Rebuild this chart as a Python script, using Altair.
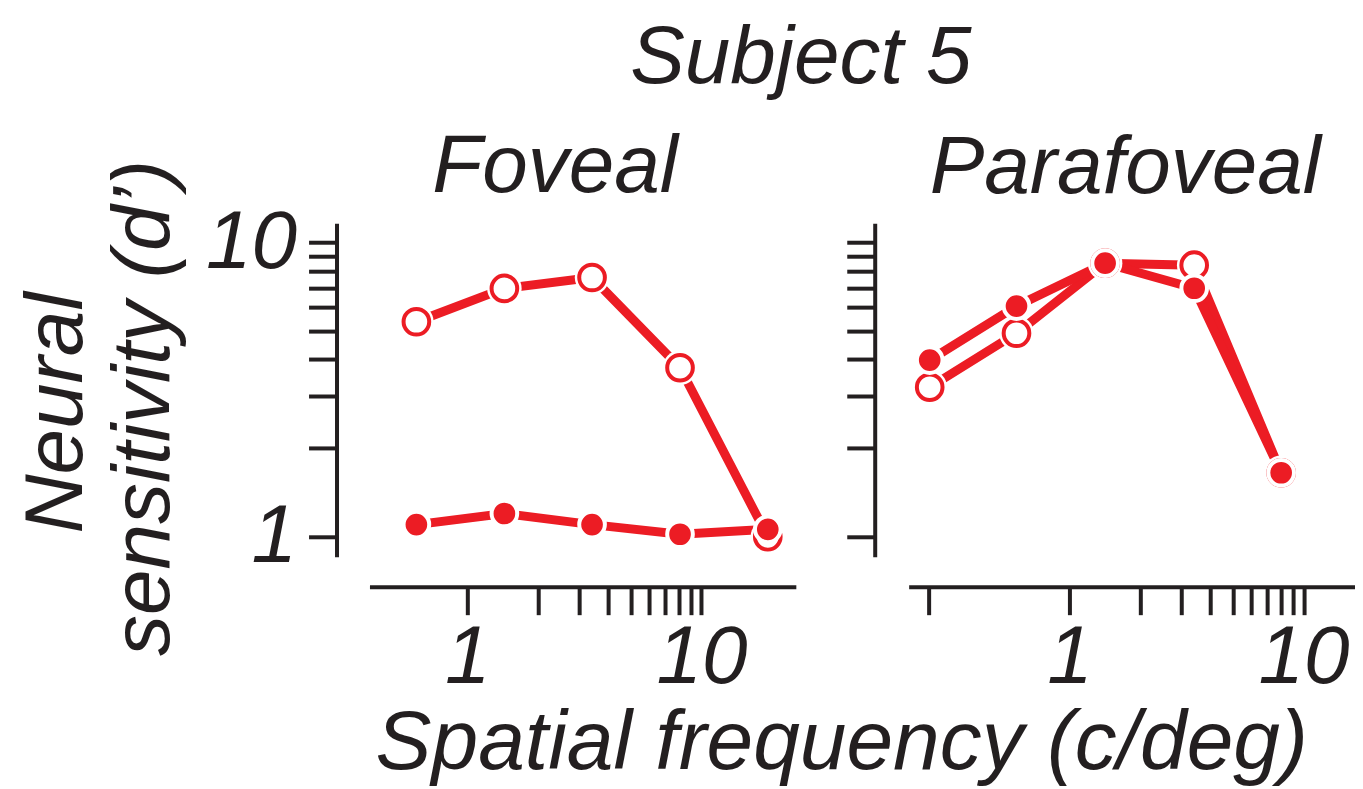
import altair as alt
import pandas as pd

RED = "#ec1c24"
INK = "#231f20"
FONT = "Liberation Sans"

# Foveal panel (Subject 5)
fov_freq = [0.606, 1.44, 3.41, 8.1, 19.2]
fov_open = [5.37, 6.97, 7.59, 3.75, 1.0]
fov_filled = [1.10, 1.20, 1.10, 1.02, 1.06]

# Parafoveal panel (Subject 5)
para_freq = [0.253, 0.594, 1.42, 3.41, 8.02]
para_open = [3.22, 4.91, 8.49, 8.36, 1.65]
para_filled = [3.98, 6.07, 8.49, 6.98, 1.65]

y_ticks = [1, 2, 3, 4, 5, 6, 7, 8, 9, 10]
fov_x_ticks = [1, 2, 3, 4, 5, 6, 7, 8, 9, 10]
para_x_ticks = [0.25, 1, 2, 3, 4, 5, 6, 7, 8, 9, 10]

fov_x_domain = [0.382, 25.3]
para_x_domain = [0.2057, 16.58]
y_domain = [0.8555, 11.6]

LABEL_EXPR = "datum.value == 1 ? '1' : (datum.value == 10 ? '10' : '')"


def make_df(freq, open_vals, filled_vals):
    rows = []
    for f, v in zip(freq, open_vals):
        rows.append({"freq": f, "d": v, "kind": "open"})
    for f, v in zip(freq, filled_vals):
        rows.append({"freq": f, "d": v, "kind": "filled"})
    return pd.DataFrame(rows)


def axis(values, offset, labels=True, pad=3):
    kw = dict(
        values=values,
        title=None,
        grid=False,
        offset=offset,
        tickSize=28,
        tickWidth=4,
        tickColor=INK,
        domainWidth=4,
        domainColor=INK,
        labels=labels,
    )
    if labels:
        kw.update(
            labelExpr=LABEL_EXPR,
            labelFont=FONT,
            labelFontSize=82,
            labelFontStyle="italic",
            labelColor=INK,
            labelOverlap=False,
            labelFlush=False,
            labelBound=False,
            labelPadding=pad,
        )
    return alt.Axis(**kw)


def panel(df, xdomain, xticks, yoffset, ylabels):
    x = alt.X(
        "freq:Q",
        scale=alt.Scale(type="log", domain=xdomain, nice=False),
        axis=axis(xticks, 30, pad=3),
    )
    y = alt.Y(
        "d:Q",
        scale=alt.Scale(type="log", domain=y_domain, nice=False),
        axis=axis(y_ticks, yoffset, labels=ylabels, pad=12),
    )
    base = alt.Chart(df)
    lines = base.mark_line(strokeWidth=9, color=RED).encode(
        x=x, y=y, detail="kind:N"
    )
    open_df = base.transform_filter(alt.datum.kind == "open")
    filled_df = base.transform_filter(alt.datum.kind == "filled")
    halo = open_df.mark_point(
        shape="circle", filled=True, fill="white", opacity=1, size=1195, strokeWidth=0
    ).encode(x=x, y=y)
    ring = open_df.mark_point(
        shape="circle", filled=True, fill="white", stroke=RED, strokeWidth=4,
        opacity=1, size=660
    ).encode(x=x, y=y)
    dots = filled_df.mark_point(
        shape="circle", filled=True, fill=RED, stroke="white", strokeWidth=4,
        opacity=1, size=660
    ).encode(x=x, y=y)
    return [lines, halo, ring, dots]


def label(text, px, py, angle=0, size=82):
    return alt.Chart(pd.DataFrame({"t": [text]})).mark_text(
        font=FONT, fontSize=size, fontStyle="italic", color=INK,
        align="center", baseline="alphabetic", angle=angle,
    ).encode(text="t:N", x=alt.value(px), y=alt.value(py))


fov_df = make_df(fov_freq, fov_open, fov_filled)
para_df = make_df(para_freq, para_open, para_filled)

anchor = alt.Chart(pd.DataFrame({"a": [0]})).mark_rect(opacity=0).encode(
    x=alt.value(-362), x2=alt.value(-361), y=alt.value(-215), y2=alt.value(-214)
)

no_frame = alt.ViewBackground(stroke="transparent", strokeWidth=0)

left = alt.layer(
    *panel(fov_df, fov_x_domain, fov_x_ticks, 33, True),
    label("Subject 5", 432, -140),
    label("Foveal", 186, -31),
    label("Spatial frequency (c/deg)", 473, 547, size=84),
    label("Neural", -288, 190, angle=270),
    label("sensitivity (d\u2019)", -201, 185, angle=270),
    anchor,
).properties(width=427, height=334, view=no_frame)

right = alt.layer(
    *panel(para_df, para_x_domain, para_x_ticks, 34, False),
    label("Parafoveal", 217, -30),
).properties(width=447, height=334, view=no_frame)

chart = (
    alt.hconcat(left, right, spacing=113, bounds="flush")
    .properties(padding=0, background="white")
    .configure_view(strokeWidth=0, stroke="transparent")
)

chart.save("out.html", embed_options={"renderer": "svg", "actions": False})
